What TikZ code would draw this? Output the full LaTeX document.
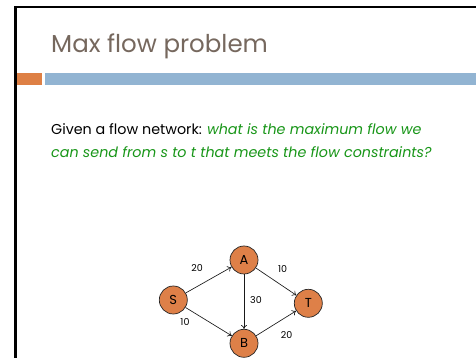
\documentclass[tikz,border=0pt]{standalone}
\usepackage{fontspec}
\setmainfont{Poppins}
\usetikzlibrary{arrows.meta}
\definecolor{titlegray}{RGB}{118,104,94}
\definecolor{qgreen}{RGB}{24,150,24}
\definecolor{barorange}{RGB}{222,128,69}
\definecolor{barblue}{RGB}{146,180,210}
\definecolor{nodeorange}{RGB}{222,128,72}
\tikzset{
  vtx/.style={circle, draw=black!85, line width=0.7pt, fill=nodeorange, minimum size=28pt, inner sep=0pt, font=\fontsize{13}{14}\selectfont},
  wt/.style={font=\fontsize{9.5}{11}\selectfont, inner sep=0pt},
  arc/.style={-{To[length=4pt,width=6pt]}, line width=0.65pt, black!90}
}
\begin{document}
\begin{tikzpicture}[x=1pt,y=1pt]
\useasboundingbox (0,0) rectangle (476,358);
\fill[white] (0,0) rectangle (476,358);
\draw[line width=2.5pt] (15.3,0) -- (15.3,351) -- (476,351);
\fill[barorange] (16.6,273) rectangle (42,285);
\fill[barblue] (45,273) rectangle (476,285);
\node[anchor=base west, inner sep=0pt, text=titlegray, font=\fontsize{24.5}{28}\selectfont] (title) at (51,305.3) {Max flow problem};
\node[anchor=base west, inner sep=0pt, font=\fontsize{14.3}{16}\selectfont] (line1) at (51,223) {Given a flow network: \textcolor{qgreen}{\itshape what is the maximum flow we}};
\node[anchor=base west, inner sep=0pt, font=\fontsize{14.3}{16}\selectfont, text=qgreen] (line2) at (51,200) {\itshape can send from s to t that meets the flow constraints?};
\node[vtx] (A) at (244,98) {A};
\node[vtx] (S) at (173.3,58) {S};
\node[vtx] (T) at (308.3,54.7) {T};
\node[vtx] (B) at (244,14.7) {B};
\draw[arc] (S) -- (A);
\draw[arc] (S) -- (B);
\draw[arc] (A) -- (B);
\draw[arc] (A) -- (T);
\draw[arc] (B) -- (T);
\node[wt] (wSA) at (197,90.3) {20};
\node[wt] (wAT) at (282.7,89) {10};
\node[wt] (wAB) at (256,58) {30};
\node[wt] (wSB) at (185,36) {10};
\node[wt] (wBT) at (286.7,23) {20};
\end{tikzpicture}
\end{document}
